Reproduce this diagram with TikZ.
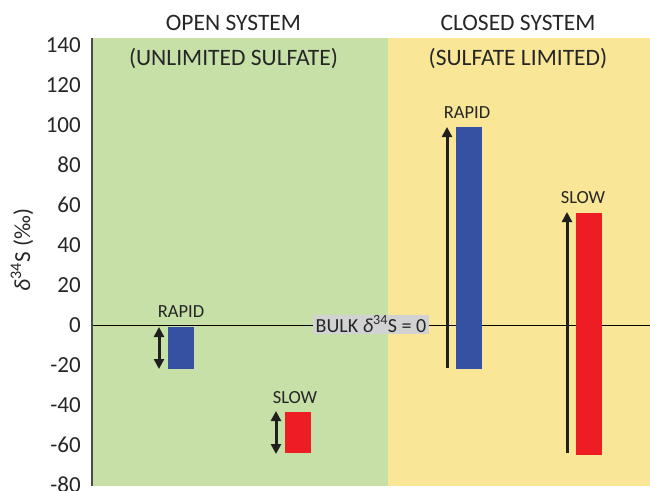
\documentclass[tikz,border=0pt]{standalone}
\usepackage{fontspec}
\setmainfont{Carlito}
\usetikzlibrary{arrows.meta}
\definecolor{opengreen}{HTML}{C6E0A8}
\definecolor{closedyellow}{HTML}{F9E797}
\definecolor{barblue}{HTML}{3651A1}
\definecolor{barred}{HTML}{EE1D23}
\definecolor{bulkgray}{HTML}{D2D2D2}
\definecolor{txt}{HTML}{262626}
\tikzset{
  ticklbl/.style={anchor=east, inner sep=0pt, font=\fontsize{23}{27}\selectfont, text=txt},
  titlelbl/.style={inner sep=0pt, font=\fontsize{23.5}{27}\selectfont, text=txt},
  barlbl/.style={inner sep=0pt, font=\fontsize{18.5}{21}\selectfont, text=txt},
  rangearrow/.style={line width=3pt, {Triangle[width=10pt,length=10pt]}-{Triangle[width=10pt,length=10pt]}, draw=black!88},
  riseatrrow/.style={line width=3pt, -{Triangle[width=10pt,length=10pt]}, draw=black!88},
}
\begin{document}
\begin{tikzpicture}[x=1pt,y=-1pt]
\useasboundingbox (0,0) rectangle (650,490);
% backgrounds
\fill[opengreen] (92,38) rectangle (388,486);
\fill[closedyellow] (388,38) rectangle (650,486);
% axes
\draw[line width=1pt, black] (92,325) -- (650,325);
\draw[line width=1.2pt, black!70] (92,38) -- (92,486);
% tick labels
\foreach \v in {140,120,...,-80} {
  \node[ticklbl] (t\v) at (81,{325-2*\v}) {\v};
}
% axis title
\node[rotate=90, inner sep=0pt, font=\fontsize{23}{27}\selectfont, text=txt] (ytitle) at (22,250) {\textit{δ}\textsuperscript{34}S (‰)};
% titles
\node[titlelbl] (opentitle) at (233.5,23) {OPEN SYSTEM};
\node[titlelbl] (opensub) at (233.5,59) {(UNLIMITED SULFATE)};
\node[titlelbl] (closedtitle) at (518,23) {CLOSED SYSTEM};
\node[titlelbl] (closedsub) at (518,59) {(SULFATE LIMITED)};
% open system bars
\fill[barblue] (168,327) rectangle (194,369);
\coordinate (orTop) at (159,327);
\coordinate (orBot) at (159,369);
\draw[rangearrow] (orBot) -- (orTop);
\node[barlbl] (orLbl) at (181,312) {RAPID};
\fill[barred] (285,412) rectangle (311,453);
\coordinate (osTop) at (276,411);
\coordinate (osBot) at (276,454);
\draw[rangearrow] (osBot) -- (osTop);
\node[barlbl] (osLbl) at (295,398) {SLOW};
% closed system bars
\fill[barblue] (456,127) rectangle (482,369);
\coordinate (crTop) at (447,127);
\coordinate (crBot) at (447,368);
\draw[riseatrrow] (crBot) -- (crTop);
\node[barlbl] (crLbl) at (467,113) {RAPID};
\fill[barred] (576,213) rectangle (602,455);
\coordinate (csTop) at (567,212);
\coordinate (csBot) at (567,453);
\draw[riseatrrow] (csBot) -- (csTop);
\node[barlbl] (csLbl) at (583,198) {SLOW};
% bulk label
\node[fill=bulkgray, inner sep=0pt, minimum width=116pt, minimum height=19pt, font=\fontsize{20}{22}\selectfont, text=txt] (bulk) at (371,324) {BULK \textit{δ}\textsuperscript{34}S = 0};
\end{tikzpicture}
\end{document}
